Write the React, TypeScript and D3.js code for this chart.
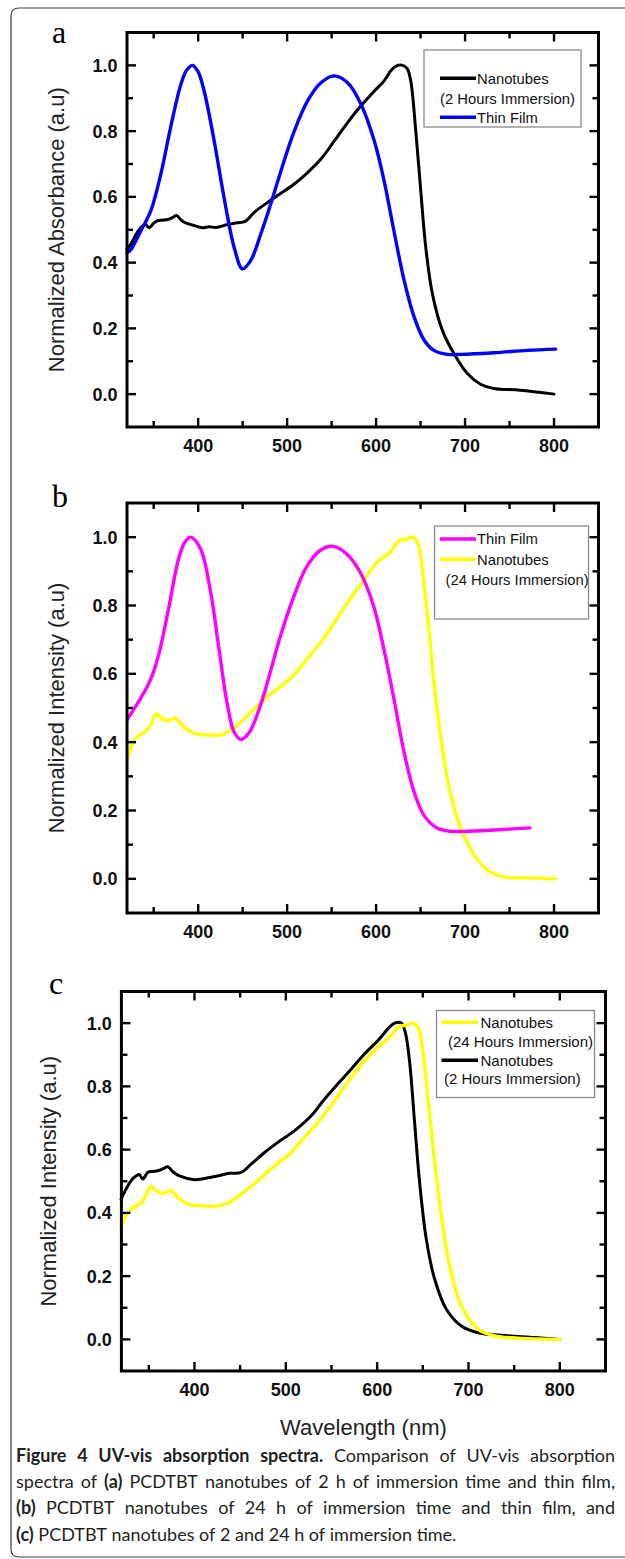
import React from 'react';
import * as d3 from 'd3';

type P = [number, number];

// ---------- axis ticks ----------
const xMajor = [400, 500, 600, 700, 800];
const xMinor = [350, 450, 550, 650, 750];
const yMajor = [0, 0.2, 0.4, 0.6, 0.8, 1.0];
const yMinor = [0.1, 0.3, 0.5, 0.7, 0.9];
const xDomain: P = [320, 850];
const yDomain: P = [-0.1, 1.1];

// ---------- panel a ----------
const aNanotubes2h: P[] = [
  [320, 0.44], [324, 0.455], [330, 0.485], [336, 0.508], [341, 0.515], [345, 0.506], [350, 0.52],
  [355, 0.528], [360, 0.529], [366, 0.531], [371, 0.537], [376, 0.543], [380, 0.532], [385, 0.522],
  [395, 0.513], [405, 0.506], [412, 0.509], [420, 0.507], [433, 0.516], [444, 0.521], [453, 0.526],
  [463, 0.553], [478, 0.583], [493, 0.611], [508, 0.639], [523, 0.674], [538, 0.715], [553, 0.77],
  [568, 0.826], [583, 0.877], [598, 0.922], [609, 0.953], [617, 0.985], [622, 0.997], [630, 1.0],
  [635, 0.99], [639, 0.952], [644.6, 0.8], [650.2, 0.619], [655.8, 0.447], [663.3, 0.305],
  [674.5, 0.194], [687.6, 0.123], [702.6, 0.063], [717.6, 0.03], [732.6, 0.017], [762, 0.012], [800, 0.0],
];
const aThinFilm: P[] = [
  [320, 0.43], [323.6, 0.437], [335.6, 0.497], [346.8, 0.558], [358, 0.669], [369, 0.811],
  [380.5, 0.942], [387, 0.985], [393.6, 1.0], [400, 0.98], [406.7, 0.922], [418, 0.77], [429, 0.599],
  [440.4, 0.447], [449.8, 0.381], [459, 0.406], [470.4, 0.487], [481.6, 0.578], [493, 0.679],
  [508, 0.8], [523, 0.892], [538, 0.947], [553, 0.968], [568, 0.947], [583, 0.882], [598, 0.77],
  [609, 0.649], [620, 0.497], [631.5, 0.346], [642.7, 0.235], [654, 0.164], [665, 0.133],
  [680, 0.121], [695, 0.121], [732.6, 0.126], [770, 0.133], [801.9, 0.137],
];

// ---------- panel b ----------
const bThinFilm: P[] = [
  [320.6, 0.468], [332.7, 0.517], [346, 0.58], [355.4, 0.654], [366.7, 0.79], [378, 0.937],
  [385, 0.985], [391.3, 1.0], [402.6, 0.966], [414, 0.839], [423.4, 0.673], [433, 0.507],
  [440.5, 0.429], [448, 0.408], [457.5, 0.429], [468.8, 0.498], [480, 0.595], [491.5, 0.702],
  [506.6, 0.82], [521.7, 0.912], [536.9, 0.961], [552, 0.973], [567, 0.951], [582, 0.898],
  [597, 0.8], [608.7, 0.673], [620, 0.527], [631.4, 0.371], [642.7, 0.254], [654, 0.185],
  [669, 0.148], [684, 0.139], [699, 0.139], [733, 0.143], [773, 0.149],
];
const bNanotubes24h: P[] = [
  [320.6, 0.351], [327, 0.4], [332.7, 0.418], [340, 0.429], [346, 0.449], [353.5, 0.483], [359, 0.47],
  [364.8, 0.463], [369, 0.466], [374, 0.47], [382, 0.449], [393, 0.429], [404.5, 0.422], [416, 0.421],
  [427, 0.422], [438.6, 0.439], [453.7, 0.473], [468.8, 0.512], [484, 0.546], [499, 0.576],
  [510.4, 0.605], [525.5, 0.654], [540.6, 0.702], [555.8, 0.761], [570.9, 0.82], [586, 0.873],
  [601, 0.927], [616, 0.956], [625.7, 0.99], [633, 0.993], [640.8, 1.0], [646.5, 0.985], [654, 0.859],
  [659.7, 0.722], [665.4, 0.566], [673, 0.41], [682.4, 0.263], [695.6, 0.146], [710.8, 0.068],
  [726, 0.024], [744.8, 0.005], [771, 0.003], [801.5, 0.0],
];

// ---------- panel c ----------
const cNanotubes24h: P[] = [
  [319.7, 0.354], [325.1, 0.391], [330.6, 0.412], [337.9, 0.424], [343.4, 0.438], [348.9, 0.47],
  [352.5, 0.484], [358, 0.47], [363.5, 0.462], [369, 0.465], [374.4, 0.47], [381.7, 0.449],
  [392.7, 0.428], [407.3, 0.422], [425.6, 0.422], [436.5, 0.431], [451.1, 0.459], [469.4, 0.502],
  [487.7, 0.549], [505.9, 0.591], [520.5, 0.639], [535.1, 0.686], [553.4, 0.755], [571.7, 0.829],
  [586.3, 0.882], [600.9, 0.924], [615.5, 0.961], [624.6, 0.99], [631.9, 0.993], [639.2, 1.0],
  [644.7, 0.987], [650.2, 0.908], [655.7, 0.76], [663, 0.56], [670.3, 0.39], [679.4, 0.232],
  [692.2, 0.106], [710.4, 0.032], [728.7, 0.011], [754.3, 0.004], [800, 0.0],
];
const cNanotubes2h: P[] = [
  [319.7, 0.443], [325.1, 0.475], [330.6, 0.502], [336.1, 0.517], [339.7, 0.521], [343.4, 0.507],
  [348.9, 0.528], [354.3, 0.531], [359.8, 0.533], [365.3, 0.539], [370.8, 0.546], [376.3, 0.53],
  [383.6, 0.517], [400, 0.505], [411, 0.509], [425.6, 0.517], [438.3, 0.525], [451.1, 0.528],
  [462, 0.554], [476.7, 0.591], [491.3, 0.623], [509.6, 0.66], [527.8, 0.707], [542.4, 0.76],
  [557, 0.808], [571.7, 0.855], [586.3, 0.903], [600.9, 0.945], [611.8, 0.982], [619.1, 1.0],
  [626.4, 1.0], [630.8, 0.971], [635.6, 0.876], [641, 0.686], [646.5, 0.496], [653.8, 0.317],
  [663, 0.19], [675.8, 0.095], [692.2, 0.042], [710.4, 0.021], [736, 0.013], [772.5, 0.006], [800, 0.0],
];

// ---------- caption ----------
const captionLines: { t: string; b: boolean }[][] = [
  [{ t: 'Figure 4 UV-vis absorption spectra.', b: true }, { t: 'Comparison of UV-vis absorption', b: false }],
  [{ t: 'spectra of', b: false }, { t: '(a)', b: true }, { t: 'PCDTBT nanotubes of 2 h of immersion time and thin film,', b: false }],
  [{ t: '(b)', b: true }, { t: 'PCDTBT nanotubes of 24 h of immersion time and thin film, and', b: false }],
  [{ t: '(c)', b: true }, { t: 'PCDTBT nanotubes of 2 and 24 h of immersion time.', b: false }],
];

const SANS = '"Liberation Sans", Arial, Helvetica, sans-serif';
const SERIF = '"Liberation Serif", "Times New Roman", serif';
const CAP = 'Lato, "Open Sans", sans-serif';

type LegendItem =
  | { kind: 'line'; color: string; y: number; x1: number; x2: number; tx: number; text: string }
  | { kind: 'text'; x: number; y: number; text: string };

type PanelCfg = {
  letter: string; letterX: number; letterY: number;
  l: number; r: number; t: number; b: number;
  yLabel: string; yLabelX: number;
  series: { data: P[]; color: string; w: number }[];
  legendBox: { x: number; y: number; w: number; h: number };
  legendFs: number;
  legend: LegendItem[];
};

const panels: PanelCfg[] = [
  {
    letter: 'a', letterX: 52, letterY: 43, l: 127, r: 598.5, t: 32.5, b: 427,
    yLabel: 'Normalized Absorbance (a.u)', yLabelX: 64,
    series: [{ data: aNanotubes2h, color: '#000000', w: 3 }, { data: aThinFilm, color: '#0000ff', w: 3.4 }],
    legendBox: { x: 424, y: 50, w: 157, h: 77 }, legendFs: 14.8,
    legend: [
      { kind: 'line', color: '#000000', y: 78.3, x1: 440, x2: 476, tx: 477, text: 'Nanotubes' },
      { kind: 'text', x: 440, y: 98.3, text: '(2 Hours Immersion)' },
      { kind: 'line', color: '#0000ff', y: 117.3, x1: 440, x2: 476, tx: 477, text: 'Thin Film' },
    ],
  },
  {
    letter: 'b', letterX: 52, letterY: 507, l: 127, r: 598.5, t: 503, b: 913,
    yLabel: 'Normalized Intensity (a.u)', yLabelX: 64,
    series: [{ data: bNanotubes24h, color: '#ffff00', w: 3.4 }, { data: bThinFilm, color: '#ff00ff', w: 3.4 }],
    legendBox: { x: 434.5, y: 526, w: 154, h: 93 }, legendFs: 14.8,
    legend: [
      { kind: 'line', color: '#ff00ff', y: 539, x1: 440, x2: 476, tx: 477, text: 'Thin Film' },
      { kind: 'line', color: '#ffff00', y: 559.3, x1: 440, x2: 476, tx: 477, text: 'Nanotubes' },
      { kind: 'text', x: 445.5, y: 580, text: '(24 Hours Immersion)' },
    ],
  },
  {
    letter: 'c', letterX: 49, letterY: 994, l: 121.4, r: 605.5, t: 991.5, b: 1371,
    yLabel: 'Normalized Intensity (a.u)', yLabelX: 56,
    series: [{ data: cNanotubes2h, color: '#000000', w: 3 }, { data: cNanotubes24h, color: '#ffff00', w: 3.4 }],
    legendBox: { x: 436.5, y: 1010.5, w: 158, h: 87 }, legendFs: 15,
    legend: [
      { kind: 'line', color: '#ffff00', y: 1022.3, x1: 441.5, x2: 478, tx: 480.5, text: 'Nanotubes' },
      { kind: 'text', x: 448, y: 1041.3, text: '(24 Hours Immersion)' },
      { kind: 'line', color: '#000000', y: 1060.3, x1: 441.5, x2: 478, tx: 480.5, text: 'Nanotubes' },
      { kind: 'text', x: 444, y: 1078.7, text: '(2 Hours Immersion)' },
    ],
  },
];

let ctx: CanvasRenderingContext2D | null = null;
function measure(text: string, bold: boolean, size: number): number {
  if (!ctx && typeof document !== 'undefined') ctx = document.createElement('canvas').getContext('2d');
  if (!ctx) return text.length * size * 0.5;
  ctx.font = `${bold ? 700 : 400} ${size}px ${CAP}`;
  return ctx.measureText(text).width;
}

function Panel({ p }: { p: PanelCfg }) {
  const x = d3.scaleLinear().domain(xDomain).range([p.l, p.r]);
  const y = d3.scaleLinear().domain(yDomain).range([p.b, p.t]);
  const line = d3.line<P>().x(d => x(d[0])).y(d => y(d[1])).curve(d3.curveCatmullRom.alpha(0.5));
  const maj = 9, min = 6;
  const tk = { stroke: '#000', strokeWidth: 2.4 };
  const lfs = p.legendFs;
  return (
    <g>
      <text x={p.letterX} y={p.letterY} fontFamily={SERIF} fontSize={32} fill="#000">{p.letter}</text>
      {p.series.map((s, i) => (
        <path key={i} d={line(s.data) || ''} fill="none" stroke={s.color} strokeWidth={s.w}
          strokeLinejoin="round" strokeLinecap="round" />
      ))}
      {xMajor.map(v => (
        <g key={'xM' + v}>
          <line x1={x(v)} x2={x(v)} y1={p.b} y2={p.b - maj} {...tk} />
          <line x1={x(v)} x2={x(v)} y1={p.t} y2={p.t + maj} {...tk} />
          <text x={x(v)} y={p.b + 25} textAnchor="middle" fontFamily={SANS} fontWeight="bold" fontSize={18} fill="#111">{v}</text>
        </g>
      ))}
      {xMinor.map(v => (
        <g key={'xm' + v}>
          <line x1={x(v)} x2={x(v)} y1={p.b} y2={p.b - min} {...tk} />
          <line x1={x(v)} x2={x(v)} y1={p.t} y2={p.t + min} {...tk} />
        </g>
      ))}
      {yMajor.map(v => (
        <g key={'yM' + v}>
          <line x1={p.l} x2={p.l + maj} y1={y(v)} y2={y(v)} {...tk} />
          <line x1={p.r} x2={p.r - maj} y1={y(v)} y2={y(v)} {...tk} />
          <text x={p.l - 9.5} y={y(v) + 6.5} textAnchor="end" fontFamily={SANS} fontWeight="bold" fontSize={18} fill="#111">{v.toFixed(1)}</text>
        </g>
      ))}
      {yMinor.map(v => (
        <g key={'ym' + v}>
          <line x1={p.l} x2={p.l + min} y1={y(v)} y2={y(v)} {...tk} />
          <line x1={p.r} x2={p.r - min} y1={y(v)} y2={y(v)} {...tk} />
        </g>
      ))}
      <rect x={p.l} y={p.t} width={p.r - p.l} height={p.b - p.t} fill="none" stroke="#000" strokeWidth={3} />
      <text transform={`translate(${p.yLabelX},${(p.t + p.b) / 2}) rotate(-90)`} textAnchor="middle"
        fontFamily={SANS} fontSize={22} fill="#222">{p.yLabel}</text>
      <rect x={p.legendBox.x} y={p.legendBox.y} width={p.legendBox.w} height={p.legendBox.h}
        fill="#fff" stroke="#8a8a8a" strokeWidth={1.3} />
      {p.legend.map((it, i) =>
        it.kind === 'line' ? (
          <g key={i}>
            <line x1={it.x1} x2={it.x2} y1={it.y} y2={it.y} stroke={it.color} strokeWidth={3.4} />
            <text x={it.tx} y={it.y + lfs * 0.36} fontFamily={SANS} fontSize={lfs} fill="#111">{it.text}</text>
          </g>
        ) : (
          <text key={i} x={it.x} y={it.y + lfs * 0.36} fontFamily={SANS} fontSize={lfs} fill="#111">{it.text}</text>
        )
      )}
    </g>
  );
}

function Caption() {
  const left = 16, width = 599, base = 1462, step = 26.2;
  let fs = 16;
  const last = captionLines[captionLines.length - 1];
  const words = (line: { t: string; b: boolean }[]) =>
    line.flatMap(seg => seg.t.split(' ').map(w => ({ w, b: seg.b })));
  const natural = (ws: { w: string; b: boolean }[], size: number) =>
    ws.reduce((s, o) => s + measure(o.w, o.b, size), 0) + (ws.length - 1) * measure(' ', false, size);
  const w4 = natural(words(last), fs);
  if (w4 > 0) fs = Math.max(14, Math.min(18, fs * 446 / w4));
  return (
    <g>
      {captionLines.map((line, li) => {
        const ws = words(line);
        const widths = ws.map(o => measure(o.w, o.b, fs));
        const total = widths.reduce((a, b) => a + b, 0);
        const justify = li < captionLines.length - 1;
        const gap = justify ? (width - total) / (ws.length - 1) : measure(' ', false, fs);
        let cx = left;
        return ws.map((o, i) => {
          const el = (
            <text key={li + '-' + i} x={cx} y={base + li * step} fontFamily={CAP} fontSize={fs}
              fontWeight={o.b ? 700 : 400} fill="#231f20">{o.w}</text>
          );
          cx += widths[i] + gap;
          return el;
        });
      })}
    </g>
  );
}

export default function App() {
  const W = 625, H = 1559;
  return (
    <svg width={W} height={H} viewBox={`0 0 ${W} ${H}`} style={{ position: 'absolute', left: 0, top: 0, background: '#fff' }}>
      <rect x={0} y={0} width={W} height={H} fill="#fff" />
      <path d="M 640 8 H 19 Q 11 8 11 16 V 1549 Q 11 1557 19 1557 H 640" fill="none" stroke="#3a3a3a" strokeWidth={1.2} />
      {panels.map(p => <Panel key={p.letter} p={p} />)}
      <text x={(panels[2].l + panels[2].r) / 2} y={1435} textAnchor="middle" fontFamily={SANS} fontSize={22} fill="#222">Wavelength (nm)</text>
      <Caption />
    </svg>
  );
}
